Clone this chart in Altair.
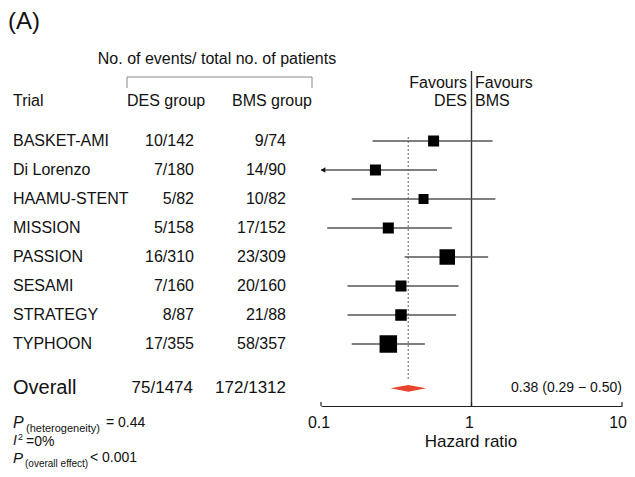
import altair as alt
import pandas as pd

# ---------------- data ----------------
trials = ["BASKET-AMI", "Di Lorenzo", "HAAMU-STENT", "MISSION", "PASSION",
          "SESAMI", "STRATEGY", "TYPHOON"]
des_events = ["10/142", "7/180", "5/82", "5/158", "16/310", "7/160", "8/87", "17/355"]
bms_events = ["9/74", "14/90", "10/82", "17/152", "23/309", "20/160", "21/88", "58/357"]
hr = [0.56, 0.23, 0.48, 0.28, 0.69, 0.34, 0.34, 0.28]
ci_low = [0.22, 0.07, 0.16, 0.11, 0.36, 0.15, 0.15, 0.16]
ci_high = [1.38, 0.59, 1.44, 0.74, 1.29, 0.82, 0.79, 0.49]
weight = [9.6, 9.6, 7.9, 9.6, 19.0, 9.6, 10.5, 24.2]
overall_hr = 0.38
overall_low = 0.29
overall_high = 0.50
overall_des = "75/1474"
overall_bms = "172/1312"
x_ticks = [0.1, 1, 10]
x_tick_labels = ["0.1", "1", "10"]

FONT = "Liberation Sans, Arial, Helvetica, sans-serif"
M = 8  # page margin: positions below are given in page pixels


def P(v):
    return v - M


X_MIN, X_MAX = 0.1, 10
OVERALL_ROW = 8.53

rows = list(range(len(trials)))
df = pd.DataFrame({
    "row": rows, "trial": trials, "des": des_events, "bms": bms_events,
    "hr": hr, "lo": ci_low, "hi": ci_high, "weight": weight,
})
df["lo_c"] = df["lo"].clip(lower=X_MIN)
df["arrow"] = df["lo"] < X_MIN

xscale = alt.Scale(type="log", domain=[X_MIN, X_MAX], range=[P(321), P(622)])
yscale = alt.Scale(domain=[0, 10], range=[P(141), P(431)], zero=False, nice=False)

xaxis = alt.Axis(values=x_ticks, grid=False, ticks=False, tickSize=0, labels=False,
                 title=None, domainColor="#222", domainWidth=1.2)

base = alt.Chart(df)

ci = base.mark_rule(color="#555", strokeWidth=1.3).encode(
    x=alt.X("lo_c:Q", scale=xscale, axis=xaxis),
    x2="hi:Q",
    y=alt.Y("row:Q", scale=yscale, axis=None),
)

arrow = base.transform_filter("datum.arrow").mark_point(
    shape="triangle-left", filled=True, size=28, color="#111", opacity=1, xOffset=2
).encode(x=alt.X("lo_c:Q", scale=xscale), y=alt.Y("row:Q", scale=yscale))

squares = base.mark_square(color="#000", opacity=1).encode(
    x=alt.X("hr:Q", scale=xscale),
    y=alt.Y("row:Q", scale=yscale),
    size=alt.Size("weight:Q", scale=alt.Scale(domain=[0, max(weight)], range=[0, 306]),
                  legend=None),
)

half = 0.12
diamond_df = pd.DataFrame({
    "x": [overall_low, overall_hr, overall_high],
    "y1": [OVERALL_ROW, OVERALL_ROW - half, OVERALL_ROW],
    "y2": [OVERALL_ROW, OVERALL_ROW + half, OVERALL_ROW],
})
diamond = alt.Chart(diamond_df).mark_area(color="#e8432d", opacity=1).encode(
    x=alt.X("x:Q", scale=xscale),
    y=alt.Y("y1:Q", scale=yscale),
    y2="y2:Q",
)

overall_line = alt.Chart(pd.DataFrame({"v": [overall_hr]})).mark_rule(
    color="#888", strokeDash=[2, 2], strokeWidth=1.3
).encode(x=alt.X("v:Q", scale=xscale), y=alt.value(P(137)), y2=alt.value(P(381)))

null_line = alt.Chart(pd.DataFrame({"v": [1]})).mark_rule(
    color="#333", strokeWidth=1.4
).encode(x=alt.X("v:Q", scale=xscale), y=alt.value(P(71)), y2=alt.value(P(406)))

ticks_df = pd.DataFrame({"v": x_ticks, "lab": x_tick_labels})
tick_marks = alt.Chart(ticks_df).mark_rule(color="#222", strokeWidth=1.2).encode(
    x=alt.X("v:Q", scale=xscale), y=alt.value(P(402)), y2=alt.value(P(406)))

# axis tick labels (last one kept inside the page)
tick_lab_mid = alt.Chart(ticks_df).transform_filter(f"datum.v < {X_MAX}").mark_text(
    align="center", baseline="middle", fontSize=16, font=FONT, color="#111", dx=-2
).encode(x=alt.X("v:Q", scale=xscale), y=alt.value(P(423)), text="lab:N")
tick_lab_end = alt.Chart(ticks_df).transform_filter(f"datum.v >= {X_MAX}").mark_text(
    align="right", baseline="middle", fontSize=16, font=FONT, color="#111", dx=5
).encode(x=alt.X("v:Q", scale=xscale), y=alt.value(P(423)), text="lab:N")

txt = dict(font=FONT, color="#111", baseline="middle")

trial_txt = base.mark_text(align="left", fontSize=16, **txt).encode(
    x=alt.value(P(13)), y=alt.Y("row:Q", scale=yscale), text="trial:N")
des_txt = base.mark_text(align="right", fontSize=16, **txt).encode(
    x=alt.value(P(194)), y=alt.Y("row:Q", scale=yscale), text="des:N")
bms_txt = base.mark_text(align="right", fontSize=16, **txt).encode(
    x=alt.value(P(286)), y=alt.Y("row:Q", scale=yscale), text="bms:N")

ov_df = pd.DataFrame({"row": [OVERALL_ROW], "des": [overall_des], "bms": [overall_bms],
                      "label": ["Overall"],
                      "est": [f"{overall_hr:.2f} ({overall_low:.2f} \u2212 {overall_high:.2f})"]})
ov = alt.Chart(ov_df)
ov_label = ov.mark_text(align="left", fontSize=20, **txt).encode(
    x=alt.value(P(13)), y=alt.Y("row:Q", scale=yscale), text="label:N")
ov_des = ov.mark_text(align="right", fontSize=17, **txt).encode(
    x=alt.value(P(193)), y=alt.Y("row:Q", scale=yscale), text="des:N")
ov_bms = ov.mark_text(align="right", fontSize=17, **txt).encode(
    x=alt.value(P(286)), y=alt.Y("row:Q", scale=yscale), text="bms:N")
ov_est = ov.mark_text(align="right", fontSize=14, **txt).encode(
    x=alt.value(P(622)), y=alt.Y("row:Q", scale=yscale), text="est:N")


def label(text, x, y, size=16, align="left", style="normal"):
    return alt.Chart(alt.Data(values=[{}])).mark_text(
        text=text, align=align, baseline="middle", fontSize=size, fontStyle=style,
        font=FONT, color="#111"
    ).encode(x=alt.value(P(x)), y=alt.value(P(y)))


def seg(x1, x2, y1, y2):
    return alt.Chart(alt.Data(values=[{}])).mark_rule(color="#888", strokeWidth=1).encode(
        x=alt.value(P(x1)), x2=alt.value(P(x2)), y=alt.value(P(y1)), y2=alt.value(P(y2)))


annotations = [
    label("(A)", 8, 22, size=24),
    label("No. of events/ total no. of patients", 217, 59, align="center"),
    seg(127, 312, 77, 77), seg(127, 127, 77, 88), seg(312, 312, 77, 88),
    label("Trial", 13, 101),
    label("DES group", 127, 101),
    label("BMS group", 312, 101, align="right"),
    label("Favours", 467, 83, align="right"),
    label("DES", 467, 101, align="right"),
    label("Favours", 475, 83),
    label("BMS", 475, 101),
    label("Hazard ratio", 471, 442, size=17, align="center"),
    label("P", 13, 423, size=16, style="italic"),
    label("(heterogeneity)", 26, 429, size=11),
    label("= 0.44", 106, 423, size=14),
    label("I", 13, 441, size=14, style="italic"),
    label("2", 18, 437, size=9),
    label("=0%", 26, 442, size=14),
    label("P", 13, 458, size=15, style="italic"),
    label("(overall effect)", 25, 464, size=10),
    label("< 0.001", 90, 458, size=14),
]

chart = alt.layer(
    null_line, overall_line, ci, arrow, squares, diamond, tick_marks,
    tick_lab_mid, tick_lab_end,
    trial_txt, des_txt, bms_txt, ov_label, ov_des, ov_bms, ov_est,
    *annotations,
).properties(
    width=619, height=P(406),
    autosize=alt.AutoSizeParams(type="none"),
    padding={"left": 0, "top": 0, "right": 0, "bottom": 461 - P(406)},
    background="white",
).configure_view(stroke=None)

chart.save("out.html", embed_options={"renderer": "svg", "actions": False})
